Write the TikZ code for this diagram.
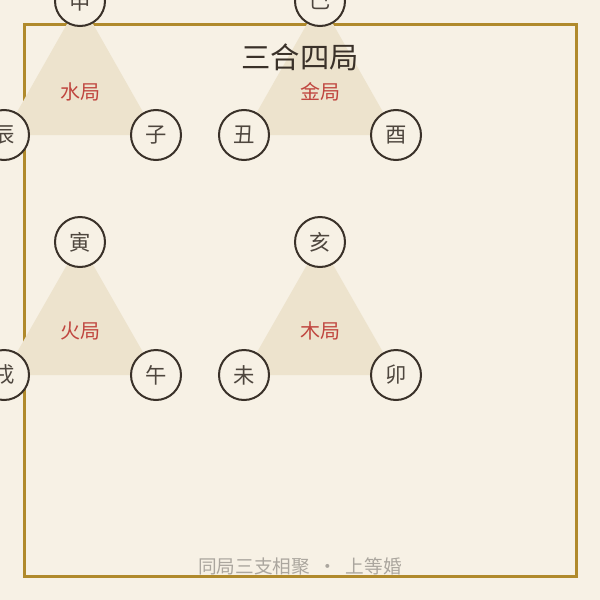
\documentclass[tikz,border=0pt]{standalone}
\usepackage{fontspec}
\newfontfamily\cjk{Noto Sans CJK SC}
\usetikzlibrary{calc}
\usetikzlibrary{positioning}
\definecolor{paper}{HTML}{F7F1E5}
\definecolor{gold}{HTML}{B08A2C}
\definecolor{tri}{HTML}{EDE3CD}
\definecolor{ink}{HTML}{3A3129}
\definecolor{jured}{HTML}{C0463F}
\definecolor{faint}{HTML}{ABA69E}
\tikzstyle{zhinode} = [draw=ink, line width=1.5pt, circle, fill=paper, minimum size=37.5pt, inner sep=0pt, font=\cjk\fontsize{16}{16}\selectfont, text=ink!90]
\tikzstyle{junode} = [font=\cjk\fontsize{15}{15}\selectfont, text=jured]
\tikzstyle{trifill} = [fill=tri]

\begin{document}
\begin{tikzpicture}[x=0.75pt, y=-0.75pt]
    \fill[paper] (0,0) rectangle (600,600);
    \clip (0,0) rectangle (600,600);
    \draw[gold, line width=2.25pt] (24,24) rectangle (576,576);

    \coordinate (shui_top) at (80,1);
    \coordinate (shui_left) at ($(shui_top)+(-76,134)$);
    \coordinate (shui_right) at ($(shui_top)+(76,134)$);
    \coordinate (jin_top) at ($(shui_top)+(240,0)$);
    \coordinate (jin_left) at ($(jin_top)+(-76,134)$);
    \coordinate (jin_right) at ($(jin_top)+(76,134)$);
    \coordinate (huo_top) at (80,242);
    \coordinate (huo_left) at ($(huo_top)+(-76,133)$);
    \coordinate (huo_right) at ($(huo_top)+(76,133)$);
    \coordinate (mu_top) at ($(huo_top)+(240,0)$);
    \coordinate (mu_left) at ($(mu_top)+(-76,133)$);
    \coordinate (mu_right) at ($(mu_top)+(76,133)$);

    \fill[trifill] (shui_top) -- (shui_left) -- (shui_right) -- cycle;
    \fill[trifill] (jin_top) -- (jin_left) -- (jin_right) -- cycle;
    \fill[trifill] (huo_top) -- (huo_left) -- (huo_right) -- cycle;
    \fill[trifill] (mu_top) -- (mu_left) -- (mu_right) -- cycle;

    \node[font=\cjk\fontsize{22}{22}\selectfont, text=ink] (title) at (300,57) {三合四局};

    \node[zhinode] (shen) at (shui_top) {申};
    \node[zhinode] (chen) at (shui_left) {辰};
    \node[zhinode] (zi) at (shui_right) {子};
    \node[junode] (shui_ju) at ($(shui_top)+(0,91)$) {水局};

    \node[zhinode] (si) at (jin_top) {巳};
    \node[zhinode] (chou) at (jin_left) {丑};
    \node[zhinode] (you) at (jin_right) {酉};
    \node[junode] (jin_ju) at ($(jin_top)+(0,91)$) {金局};

    \node[zhinode] (yin) at (huo_top) {寅};
    \node[zhinode] (xu) at (huo_left) {戌};
    \node[zhinode] (wu) at (huo_right) {午};
    \node[junode] (huo_ju) at ($(huo_top)+(0,89)$) {火局};

    \node[zhinode] (hai) at (mu_top) {亥};
    \node[zhinode] (wei) at (mu_left) {未};
    \node[zhinode] (mao) at (mu_right) {卯};
    \node[junode] (mu_ju) at ($(mu_top)+(0,89)$) {木局};

    \node[font=\cjk\fontsize{14}{14}\selectfont, text=faint] (footer) at (300,566) {同局三支相聚\ \ ·\ \ 上等婚};
\end{tikzpicture}
\end{document}
